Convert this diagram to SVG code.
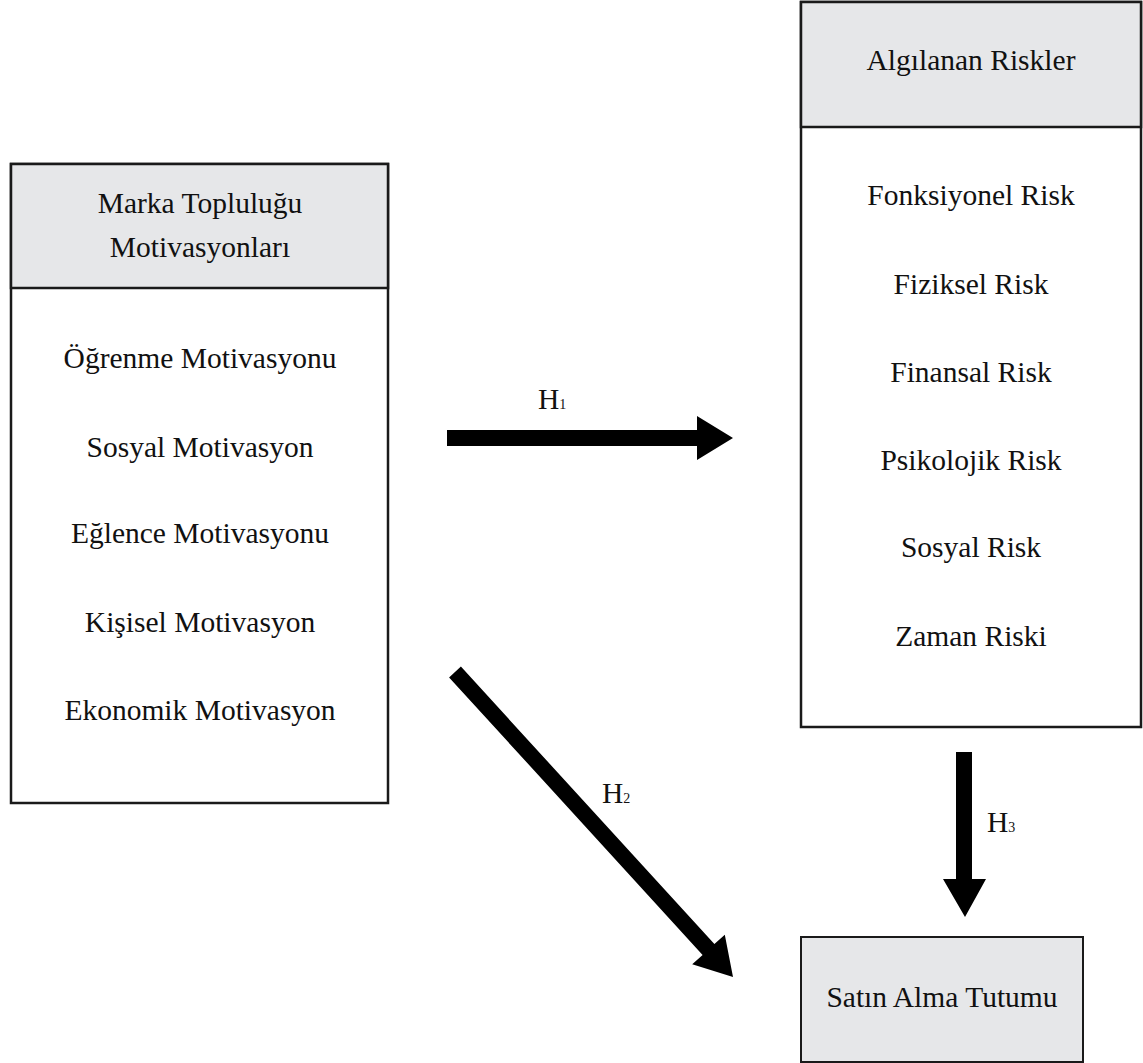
<svg xmlns="http://www.w3.org/2000/svg" width="1143" height="1063" viewBox="0 0 1143 1063">
<style>
.box{fill:#ffffff;stroke:#1a1a1a;stroke-width:2.5}
.hdr{fill:#e6e7e9;stroke:#1a1a1a;stroke-width:2.5}
.t{font-family:"Liberation Serif","Times New Roman",serif;font-size:29.5px;fill:#111;text-anchor:middle}
.h{font-family:"Liberation Serif","Times New Roman",serif;font-size:29.5px;fill:#111}
.sub{font-size:14px}
.arr{fill:#000}
</style>
<rect width="1143" height="1063" fill="#ffffff"/>
<g id="motivasyonlar">
<rect class="box" x="11" y="164" width="377" height="639"/>
<rect class="hdr" x="11" y="164" width="377" height="124"/>
<text class="t" x="200" y="213">Marka Topluluğu</text>
<text class="t" x="200" y="257">Motivasyonları</text>
<text class="t" x="200" y="368">Öğrenme Motivasyonu</text>
<text class="t" x="200" y="457">Sosyal Motivasyon</text>
<text class="t" x="200" y="543">Eğlence Motivasyonu</text>
<text class="t" x="200" y="632">Kişisel Motivasyon</text>
<text class="t" x="200" y="720">Ekonomik Motivasyon</text>
</g>
<g id="riskler">
<rect class="box" x="801" y="2" width="340" height="725"/>
<rect class="hdr" x="801" y="2" width="340" height="125"/>
<text class="t" x="971" y="70">Algılanan Riskler</text>
<text class="t" x="971" y="205">Fonksiyonel Risk</text>
<text class="t" x="971" y="294">Fiziksel Risk</text>
<text class="t" x="971" y="382">Finansal Risk</text>
<text class="t" x="971" y="470">Psikolojik Risk</text>
<text class="t" x="971" y="557">Sosyal Risk</text>
<text class="t" x="971" y="646">Zaman Riski</text>
</g>
<g id="satin-alma">
<rect class="hdr" x="801" y="937" width="282" height="125" style="stroke-width:2"/>
<text class="t" x="942" y="1007">Satın Alma Tutumu</text>
</g>
<g id="connectors">
<polygon class="arr" points="447,430 697,430 697,416 733,438 697,460 697,446 447,446"/>
<polygon class="arr" points="956,752 972,752 972,879 986,879 965,917 943,879 956,879"/>
<polygon class="arr" points="449.1,677.4 460.9,666.6 714.4,944.1 724.8,934.7 733,977 692.2,964.3 702.6,954.9"/>
<text class="h" x="538" y="409">H<tspan class="sub">1</tspan></text>
<text class="h" x="602" y="803">H<tspan class="sub">2</tspan></text>
<text class="h" x="987" y="832">H<tspan class="sub">3</tspan></text>
</g>
</svg>
